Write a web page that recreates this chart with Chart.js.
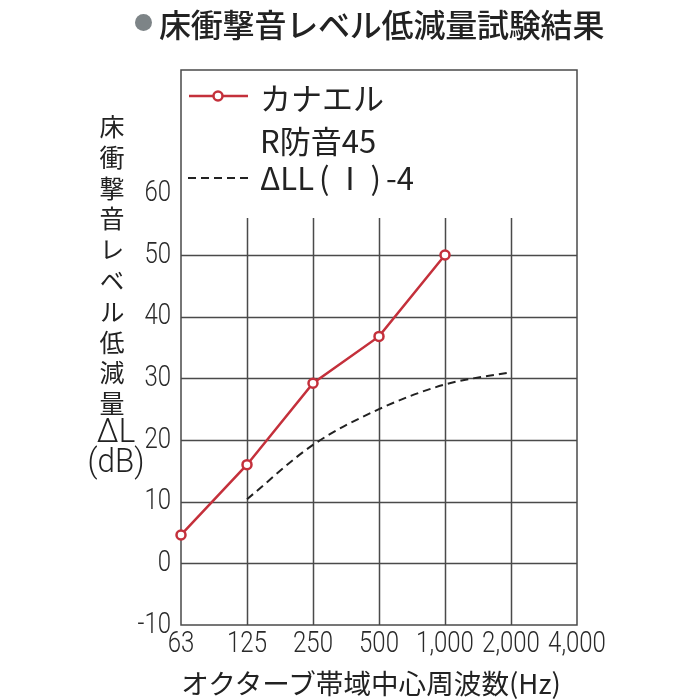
<!DOCTYPE html>
<html lang="ja">
<head>
  <meta charset="UTF-8" />
  <title>床衝撃音レベル低減量試験結果</title>
  <script src="https://cdn.jsdelivr.net/npm/chart.js"></script>
  <style>
    html, body { margin: 0; padding: 0; background: #fff; }
    #wrap { position: relative; width: 700px; height: 700px; font-family: "Noto Sans CJK JP", "Noto Sans", sans-serif; color: #222; }
    #chart { position: absolute; left: 0; top: 0; }
    .abs { position: absolute; white-space: nowrap; }
    #title { left: 159px; top: 2px; font-size: 32px; font-weight: 500; line-height: 42px; letter-spacing: -0.2px; }
    #bullet { left: 135px; top: 14px; width: 17px; height: 17px; border-radius: 50%; background: #7d8487; }
    #ytitle { left: 99px; top: 114px; writing-mode: vertical-rl; text-orientation: upright; font-size: 25px; line-height: 26px; letter-spacing: 5.8px; }
    .yunit { width: 70px; left: 81px; text-align: center; font-size: 33px; line-height: 30px; font-family: Roboto, sans-serif; font-weight: 300; transform: scaleX(0.95); }
    .leg { left: 260px; font-size: 31px; line-height: 40px; }
    .leg .p { display: inline-block; margin: 0 5px; }
    #xtitle { left: 170px; width: 402px; top: 664px; text-align: center; font-size: 27.6px; line-height: 36px; }
  </style>
</head>
<body>
  <div id="wrap">
    <canvas id="chart" width="700" height="700"></canvas>
    <div id="bullet" class="abs"></div>
    <div id="title" class="abs">床衝撃音レベル低減量試験結果</div>
    <div id="ytitle" class="abs">床衝撃音レベル低減量</div>
    <div class="abs yunit" style="top:416px">ΔL</div>
    <div class="abs yunit" style="top:446px">(dB)</div>
    <div class="abs leg" style="top:77px">カナエル</div>
    <div class="abs leg" style="top:120px">R防音45</div>
    <div class="abs leg" style="top:157px">ΔLL<span class="p">(</span>Ⅰ<span class="p">)</span>-4</div>
    <div id="xtitle" class="abs">オクターブ帯域中心周波数(Hz)</div>
  </div>

  <script>
    // data
    const freqLabels = ['63', '125', '250', '500', '1,000', '2,000', '4,000'];
    const kanaelValues = [4.6, 16, 29.2, 36.8, 50];
    const dllValues = [null, 10.4, 19.2, 25, 29, 31];
    const yTickValues = [-10, 0, 10, 20, 30, 40, 50, 60];
    const yGridValues = [0, 10, 20, 30, 40, 50];
    const xGridIndexes = [1, 2, 3, 4, 5];

    const RED = '#c4303b';
    const GRID = '#4a4a4a';
    const TICK_FONT = '300 30px Roboto, sans-serif';
    const SQUEEZE = 0.8; // reference uses a condensed face

    const gridPlugin = {
      id: 'grid',
      beforeDatasetsDraw(chart) {
        const { ctx, chartArea: a, scales: { x, y } } = chart;
        ctx.save();
        ctx.strokeStyle = GRID;
        ctx.lineWidth = 1.5;
        ctx.beginPath();
        yGridValues.forEach(v => {
          const py = Math.round(y.getPixelForValue(v)) + 0.5;
          ctx.moveTo(a.left, py); ctx.lineTo(a.right, py);
        });
        xGridIndexes.forEach(i => {
          const px = Math.round(x.getPixelForValue(i)) + 0.5;
          ctx.moveTo(px, y.getPixelForValue(56)); ctx.lineTo(px, a.bottom);
        });
        ctx.stroke();
        ctx.strokeRect(a.left, a.top, a.right - a.left, a.bottom - a.top);
        ctx.restore();
      },
      afterDraw(chart) {
        const { ctx, chartArea: a, scales: { x, y } } = chart;
        ctx.save();
        // tick labels, squeezed horizontally
        ctx.font = TICK_FONT;
        ctx.fillStyle = '#2a2a2a';
        ctx.textBaseline = 'middle';
        ctx.textAlign = 'right';
        y.ticks.forEach(t => {
          ctx.save();
          ctx.translate(a.left - 10, y.getPixelForValue(t.value));
          ctx.scale(SQUEEZE, 1);
          ctx.fillText(String(t.value), 0, 0);
          ctx.restore();
        });
        ctx.textAlign = 'center';
        x.ticks.forEach((t, i) => {
          ctx.save();
          ctx.translate(x.getPixelForTick(i), a.bottom + 19);
          ctx.scale(SQUEEZE, 1);
          ctx.fillText(freqLabels[t.value], 0, 0);
          ctx.restore();
        });

        // legend samples
        ctx.strokeStyle = RED;
        ctx.lineWidth = 2.5;
        ctx.beginPath(); ctx.moveTo(189, 96); ctx.lineTo(248, 96); ctx.stroke();
        ctx.fillStyle = '#fff';
        ctx.beginPath(); ctx.arc(218, 96, 4.5, 0, Math.PI * 2); ctx.fill(); ctx.stroke();
        ctx.strokeStyle = '#222';
        ctx.lineWidth = 2;
        ctx.setLineDash([8, 5]);
        ctx.beginPath(); ctx.moveTo(188, 178); ctx.lineTo(250, 178); ctx.stroke();
        ctx.restore();
      }
    };

    new Chart(document.getElementById('chart'), {
      type: 'line',
      data: {
        labels: freqLabels,
        datasets: [
          {
            label: 'カナエル R防音45',
            data: kanaelValues,
            borderColor: RED,
            borderWidth: 2.5,
            pointRadius: 4.5,
            pointBorderWidth: 2.5,
            pointBackgroundColor: '#fff',
            pointBorderColor: RED,
            tension: 0
          },
          {
            label: 'ΔLL(Ⅰ)-4',
            data: dllValues,
            borderColor: '#222',
            borderWidth: 2,
            borderDash: [8, 5],
            pointRadius: 0,
            cubicInterpolationMode: 'monotone'
          }
        ]
      },
      options: {
        responsive: false,
        animation: false,
        devicePixelRatio: 1,
        layout: { padding: { top: 70, right: 123, left: 0, bottom: 0 } },
        plugins: { legend: { display: false }, tooltip: { enabled: false } },
        scales: {
          x: {
            offset: false,
            grid: { display: false, drawTicks: false },
            border: { display: false },
            ticks: { display: false, autoSkip: false, maxRotation: 0 },
            afterFit(scale) { scale.height = 75; }
          },
          y: {
            min: -10,
            max: 80,
            grid: { display: false, drawTicks: false },
            border: { display: false },
            ticks: { display: false },
            afterBuildTicks(scale) { scale.ticks = yTickValues.map(v => ({ value: v })); },
            afterFit(scale) { scale.width = 181; }
          }
        }
      },
      plugins: [gridPlugin]
    });
  </script>
</body>
</html>
